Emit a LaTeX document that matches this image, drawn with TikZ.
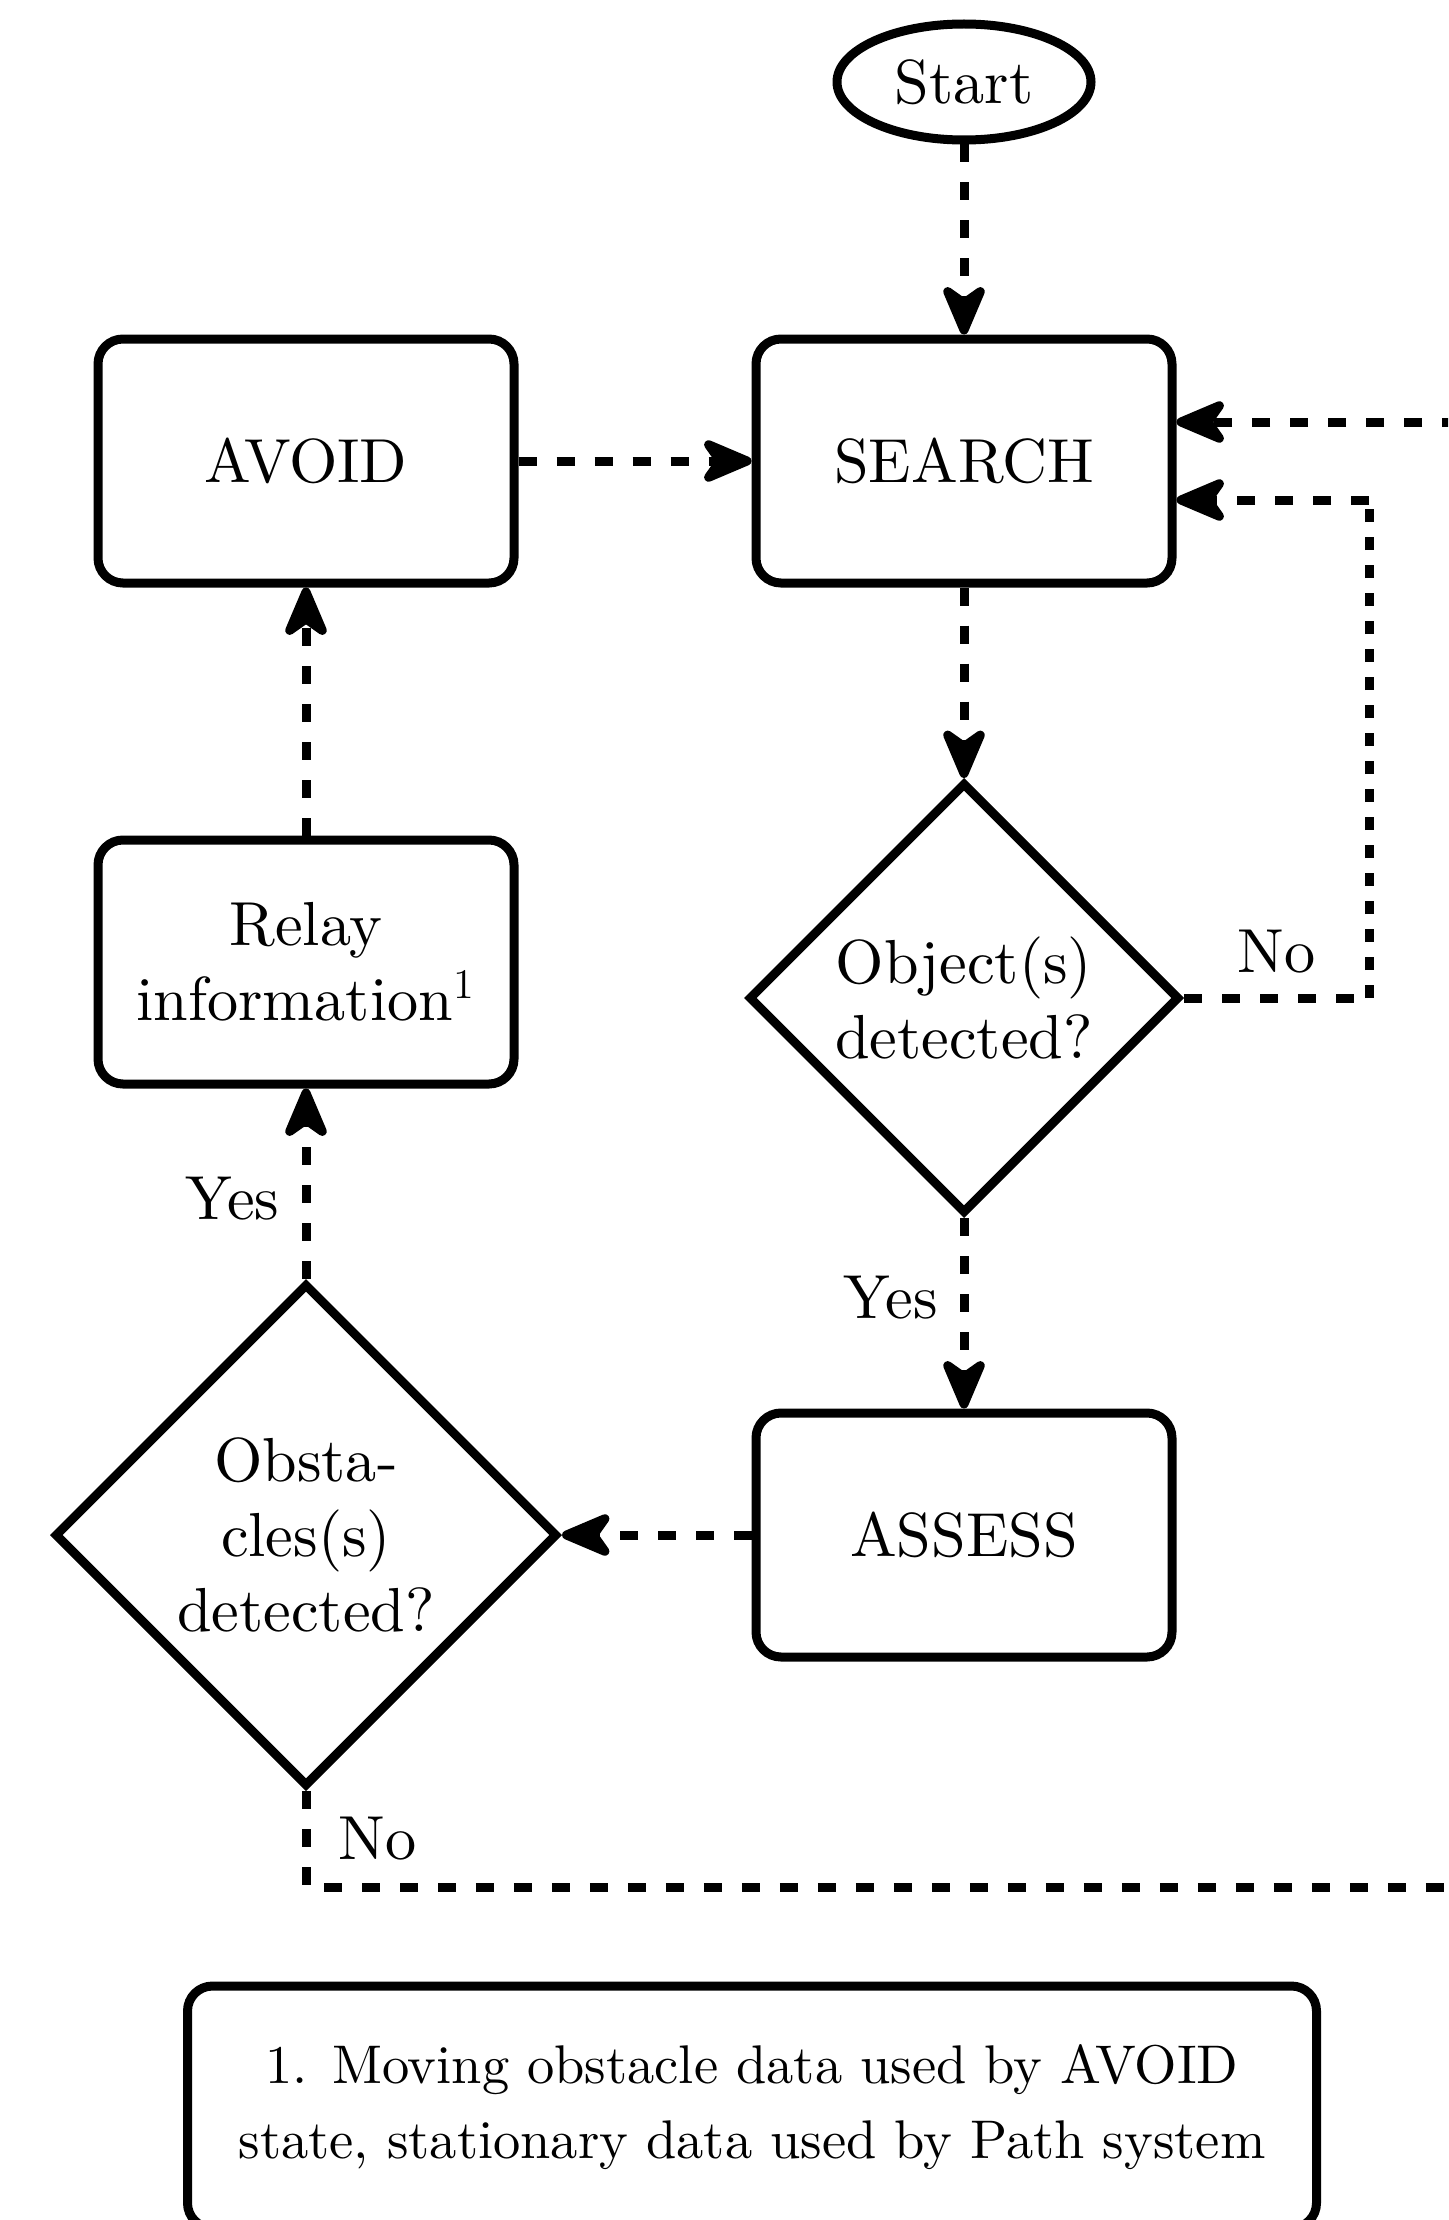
\documentclass[tikz,border=0pt]{standalone}
\usepackage{fontspec}
\setmainfont{lmroman10-regular.otf}
\usetikzlibrary{shapes.geometric,arrows.meta}
\begin{document}
\begin{tikzpicture}[line width=0.09cm,font=\fontsize{17.7}{21.3}\selectfont,
	state/.style={draw,rounded corners=0.25cm,minimum width=4.16cm,minimum height=2.44cm,align=center},
	decide/.style={draw,diamond,aspect=1,inner sep=0pt,align=center},
	flow/.style={dash pattern=on 0.18cm off 0.2cm,-{Stealth[length=0.62cm,width=0.52cm,inset=0.18cm,round]}},
	lbl/.style={inner sep=0pt}]
\useasboundingbox (0,0) rectangle (14.48,-22.20);
\clip (0,0) rectangle (14.48,-22.20);

\node[draw,ellipse,minimum width=2.54cm,minimum height=1.16cm,inner sep=0pt] (start) at (9.64,-0.82) {Start};
\node[state] (search) at (9.64,-4.61) {SEARCH};
\node[state] (avoid)  at (3.06,-4.61) {AVOID};
\node[state] (relay)  at (3.06,-9.62) {Relay\\information$^1$};
\node[decide,minimum width=4.31cm,minimum height=4.31cm] (object) at (9.64,-9.98) {Object(s)\\detected?};
\node[state] (assess) at (9.64,-15.35) {ASSESS};
\node[decide,minimum width=5.03cm,minimum height=5.03cm] (obstacle) at (3.06,-15.35) {Obsta-\\cles(s)\\detected?};
\node[draw,rounded corners=0.25cm,minimum width=11.29cm,minimum height=2.42cm,align=center,
	font=\fontsize{15.5}{21.3}\selectfont] (note) at (7.52,-21.07)
	{1. Moving obstacle data used by AVOID\\state, stationary data used by Path system};

\coordinate (nocorner) at (13.69,-9.98);
\coordinate (notop)    at (13.69,-5.00);
\coordinate (inright)  at (14.60,-4.22);
\coordinate (nodown)   at ( 3.06,-18.87);
\coordinate (noright)  at (14.60,-18.87);

\draw[flow] (start) -- (search);
\draw[flow] (avoid) -- (search);
\draw[flow] (search) -- (object);
\draw[flow] (object) -- node[pos=0.42,left=0.22cm,lbl]{Yes} (assess);
\draw[flow] (assess) -- (obstacle);
\draw[flow] (obstacle) -- node[pos=0.42,left=0.22cm,lbl]{Yes} (relay);
\draw[flow] (relay) -- (avoid);
\draw[flow,-] (object.east) -- node[above=0.2cm,lbl]{No} (nocorner);
\draw[dash pattern=on 0.13cm off 0.15cm] (nocorner) -- (notop);
\draw[flow] (notop) -- (search.east |- notop);
\draw[flow] (inright) -- (search.east |- inright);
\draw[flow,-] (obstacle.south) -- node[right=0.28cm,lbl]{No} (nodown) -- (noright);
\end{tikzpicture}
\end{document}
